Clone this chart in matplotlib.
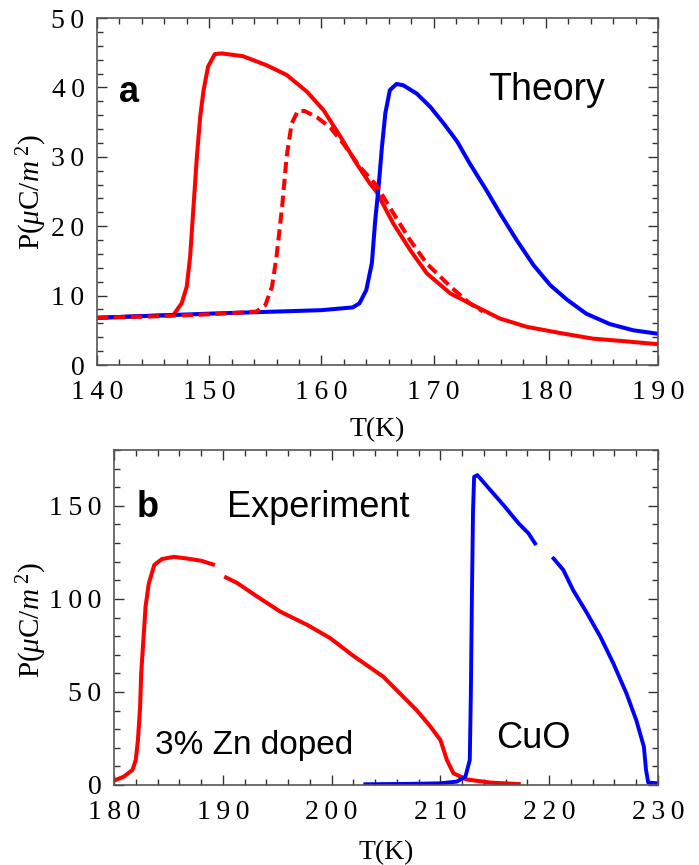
import numpy as np
import matplotlib
matplotlib.use("Agg")
import matplotlib.pyplot as plt
from matplotlib.ticker import FuncFormatter

plt.rcParams['mathtext.fontset'] = 'custom'
plt.rcParams['mathtext.rm'] = 'Liberation Serif'
plt.rcParams['mathtext.it'] = 'Liberation Serif:italic'

RED = '#ff0000'
BLUE = '#0000ff'

# panel a: theory
t_red = [140, 145, 146.8, 147.55, 148.0, 148.3, 148.6, 148.9, 149.2, 149.5, 149.9, 150.5, 151.1,
         153.0, 155.1, 156.9, 158.7, 160.2, 161.7, 163.1, 164.3, 164.9, 166.4, 167.9, 169.4,
         171.5, 173.8, 175.9, 178.3, 181.3, 184.2, 187.2, 190]
p_red = [6.8, 7.1, 7.2, 8.9, 11.3, 15.6, 22.8, 30.0, 35.8, 39.6, 43.0, 44.8, 44.9,
         44.5, 43.2, 41.8, 39.4, 36.7, 32.9, 29.1, 26.2, 25.0, 20.4, 16.6, 13.2,
         10.3, 8.4, 6.7, 5.5, 4.6, 3.8, 3.4, 3.0]

t_dash = [140, 145, 150, 154.2, 155.0, 155.6, 156.0, 156.5, 156.9, 157.35, 157.9, 158.5,
          159.6, 160.8, 161.95, 163.4, 164.9, 166.4, 167.9, 169.4, 171.5, 173.2, 174.4]
p_dash = [6.8, 7.0, 7.3, 7.7, 8.6, 11.3, 15.6, 22.8, 30.0, 34.8, 36.6, 36.6,
          35.7, 34.2, 31.9, 28.6, 25.9, 21.9, 18.0, 14.6, 11.3, 8.9, 7.7]

t_blue = [140, 150, 160, 162.8, 163.4, 164.0, 164.5, 164.8, 165.1, 165.4, 165.7, 166.1,
          166.7, 167.3, 168.5, 169.7, 170.9, 172.1, 173.2, 174.7, 175.9, 177.4, 178.9,
          180.4, 181.9, 183.6, 185.7, 187.8, 190]
p_blue = [6.8, 7.4, 7.9, 8.3, 8.9, 10.8, 14.7, 20.9, 25.7, 31.5, 36.3, 39.6,
          40.5, 40.3, 39.1, 37.2, 34.8, 32.2, 29.1, 25.2, 21.9, 18.0, 14.4,
          11.5, 9.4, 7.4, 5.9, 5.0, 4.5]

# panel b: experiment (nan = gap in the data)
t_zn = [180.15, 180.9, 181.7, 182.0, 182.2, 182.4, 182.5, 182.7, 182.9, 183.2, 183.7, 184.4,
        185.5, 186.7, 188.0, 189.1, np.nan, 190.3, 191.3, 193.2, 195.3, 197.8, 199.9,
        201.9, 204.75, 207.8, 209.0, 210.0, 210.6, 211.2, 212.4, 214.6, 217.2]
p_zn = [2.7, 4.5, 8.1, 13.4, 24.2, 42.0, 60.0, 77.9, 95.8, 108.3, 118.2, 121.4,
        122.6, 121.7, 120.5, 118.5, np.nan, 111.5, 108.6, 101.1, 93.1, 85.9, 78.8,
        69.8, 58.2, 40.3, 32.0, 24.2, 13.4, 6.3, 3.0, 1.3, 0.5]

t_cuo = [203.1, 207.0, 209.96, 211.5, 212.3, 212.7, 212.8, 212.9, 213.0, 213.1, 213.4,
         214.6, 215.8, 217.2, 218.1, 218.7, np.nan, 220.4, 221.3, 222.2, 223.4, 224.7,
         225.9, 227.1, 228.0, 228.7, 228.9, 229.1, 230]
p_cuo = [0.4, 0.6, 0.9, 1.8, 4.5, 13.4, 49.2, 103.0, 147.7, 165.6, 166.5,
         158.4, 150.4, 140.5, 135.2, 129.8, np.nan, 121.7, 115.5, 104.7, 93.1, 79.7,
         65.3, 49.2, 34.9, 20.6, 8.1, 1.3, 0.9]

xticks_a = [140, 150, 160, 170, 180, 190]
yticks_a = [0, 10, 20, 30, 40, 50]
xticks_b = [180, 190, 200, 210, 220, 230]
yticks_b = [0, 50, 100, 150]

ylab = r'P($\mu$C/$m^{\;2}$)'
SERIF = ['Liberation Serif', 'DejaVu Serif']


def spaced(v, pos):
    # Mathematica-like loose letter spacing on tick labels
    return '\u2009'.join(str(int(round(v))))


def style_axes(ax, xt, yt, xminor, yminor):
    ax.set_xticks(xt)
    ax.set_yticks(yt)
    ax.set_xticks(np.arange(xt[0], xt[-1] + 0.01, xminor), minor=True)
    ax.set_yticks(np.arange(0, ax.get_ylim()[1] + 0.01, yminor), minor=True)
    ax.xaxis.set_major_formatter(FuncFormatter(spaced))
    ax.yaxis.set_major_formatter(FuncFormatter(spaced))
    ax.tick_params(which='both', direction='in', top=True, right=True,
                   color='#333333', width=1.0)
    ax.tick_params(which='major', length=7, labelsize=20)
    ax.tick_params(axis='x', which='major', pad=11)
    ax.tick_params(axis='y', which='major', pad=9)
    ax.tick_params(which='minor', length=4)
    for lab in ax.get_xticklabels() + ax.get_yticklabels():
        lab.set_family(SERIF)
    for s in ax.spines.values():
        s.set_color('#555555')
        s.set_linewidth(1.2)


fig = plt.figure(figsize=(6.99, 8.65), dpi=100)

W, H = 699, 865
ax1 = fig.add_axes([97 / W, 1 - 365 / H, 561 / W, 347 / H])
ax1.plot(t_red, p_red, color=RED, lw=2.9)
ax1.plot(t_blue, p_blue, color=BLUE, lw=2.9)
ax1.plot(t_dash, p_dash, color=RED, lw=2.9, ls=(0, (2.8, 1.4)))
ax1.set_xlim(140, 190)
ax1.set_ylim(0, 50)
style_axes(ax1, xticks_a, yticks_a, 2, 2)
ax1.text(142.85, 39.3, 'a', fontsize=26, fontweight='bold', family='Liberation Sans',
         ha='center', va='center')
ax1.text(180.1, 39.6, 'Theory', fontsize=27, family='Liberation Sans',
         ha='center', va='center')

ax2 = fig.add_axes([114 / W, 1 - 785 / H, 544 / W, 335 / H])
ax2.plot(t_zn, p_zn, color=RED, lw=2.9)
ax2.plot(t_cuo, p_cuo, color=BLUE, lw=2.8)
ax2.set_xlim(180, 230)
ax2.set_ylim(0, 180)
style_axes(ax2, xticks_b, yticks_b, 2, 10)
ax2.text(183.1, 149.3, 'b', fontsize=26, fontweight='bold', family='Liberation Sans',
         ha='center', va='center')
ax2.text(198.8, 149.3, 'Experiment', fontsize=26, family='Liberation Sans',
         ha='center', va='center')
ax2.text(192.9, 21.0, '3% Zn doped', fontsize=24, family='Liberation Sans',
         ha='center', va='center')
ax2.text(218.5, 25, 'CuO', fontsize=26, family='Liberation Sans',
         ha='center', va='center')

fig.text(32 / W, 1 - 192 / H, ylab, rotation=90, fontsize=21,
         family='Liberation Serif', ha='center', va='center')
fig.text(32 / W, 1 - 620 / H, ylab, rotation=90, fontsize=21,
         family='Liberation Serif', ha='center', va='center')
fig.text(377 / W, 1 - 430 / H, 'T(K)', fontsize=20,
         family='Liberation Serif', ha='center', va='center')
fig.text(386 / W, 1 - 853 / H, 'T(K)', fontsize=20,
         family='Liberation Serif', ha='center', va='center')

fig.savefig('out.png', dpi=100)
